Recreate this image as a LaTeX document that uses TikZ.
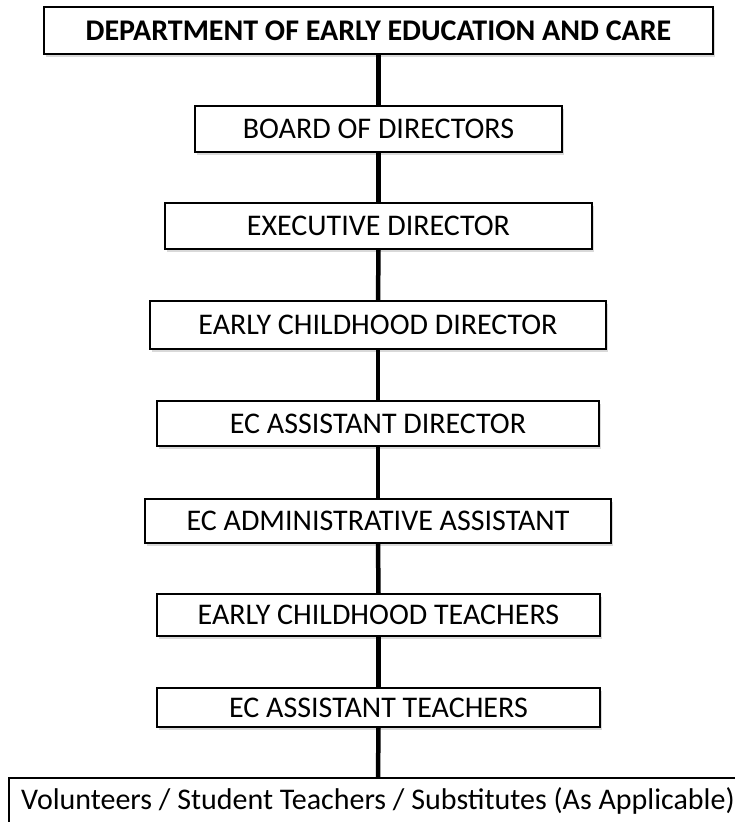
\documentclass[tikz,border=0pt]{standalone}
\usepackage{fontspec}
\setmainfont{Carlito}
\usetikzlibrary{shadows}

\begin{document}
\begin{tikzpicture}[x=1pt, y=-1pt,
    box/.style={rectangle, draw, line width=1.3pt, fill=white, inner sep=0pt, align=center, font=\fontsize{30}{35}\selectfont,
        drop shadow={shadow xshift=1.5pt, shadow yshift=-2.5pt, opacity=0.3}},
    headbox/.style={box, font=\fontsize{30}{35}\selectfont\bfseries},
    link/.style={line width=4.5pt}
]
% page frame (bottom box runs off the page)
\clip (0,0) rectangle (735,822);

% chain of boxes, top to bottom
\node[headbox, minimum width=669pt, minimum height=47pt] (dept) at (378.5,30.5) {DEPARTMENT OF EARLY EDUCATION AND CARE};
\node[box, minimum width=367pt, minimum height=46pt] (board) at (378.5,129) {BOARD OF DIRECTORS};
\node[box, minimum width=427pt, minimum height=46pt] (exec) at (378.5,226) {EXECUTIVE DIRECTOR};
\node[box, minimum width=456pt, minimum height=48pt] (ecdir) at (378,325) {EARLY CHILDHOOD DIRECTOR};
\node[box, minimum width=442pt, minimum height=45pt] (ecasst) at (378,423.5) {EC ASSISTANT DIRECTOR};
\node[box, minimum width=466pt, minimum height=44pt] (admin) at (378,521) {EC ADMINISTRATIVE ASSISTANT};
\node[box, minimum width=443pt, minimum height=42pt] (teach) at (378.5,615) {EARLY CHILDHOOD TEACHERS};
\node[box, minimum width=443pt, minimum height=39pt] (asstteach) at (378.5,707.5) {EC ASSISTANT TEACHERS};
\node[box, minimum width=738pt, minimum height=46pt] (vol) at (378,801) {Volunteers / Student Teachers / Substitutes (As Applicable)};

% vertical links
\draw[link] (dept.south) -- (board.north);
\draw[link] (board.south) -- (exec.north);
\draw[link] (exec.south) -- (ecdir.north);
\draw[link] (ecdir.south) -- (ecasst.north);
\draw[link] (ecasst.south) -- (admin.north);
\draw[link] (admin.south) -- (teach.north);
\draw[link] (teach.south) -- (asstteach.north);
\draw[link] (asstteach.south) -- (vol.north);

\end{tikzpicture}
\end{document}
